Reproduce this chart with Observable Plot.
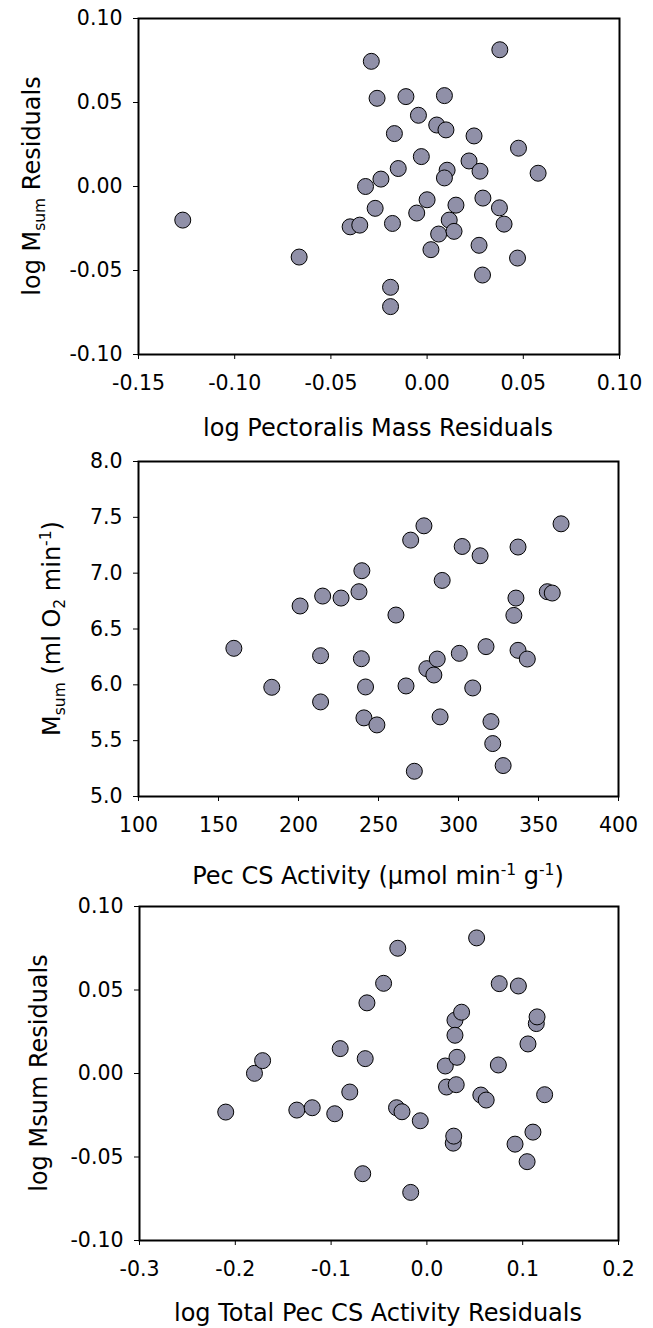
<!DOCTYPE html>
<html>
<head>
<meta charset="utf-8">
<script src="https://cdn.jsdelivr.net/npm/d3@7"></script>
<script src="https://cdn.jsdelivr.net/npm/@observablehq/plot@0.6"></script>
<style>
  html, body { margin: 0; padding: 0; background: white; }
  #chart { width: 653px; }
  #chart svg { display: block; }
  #chart svg g[aria-label^="x-axis"] text,
  #chart svg g[aria-label^="y-axis"] text { font-size: 20.5px !important; font-family: "DejaVu Sans", sans-serif !important; fill: black; }
</style>
</head>
<body>
<div id="chart"></div>
<script>
// ---------- Panel 1: log Msum residuals vs log pectoralis mass residuals ----------
const pecMassResid = [-0.127, -0.0665, -0.040, -0.035, -0.032, -0.029, -0.026, -0.027, -0.024, -0.017,
  -0.018, -0.019, -0.019, -0.015, -0.011, -0.0045, -0.003, -0.0054, 0.000, 0.002,
  0.005, 0.009, 0.0098, 0.0104, 0.009, 0.006, 0.0115, 0.014, 0.015, 0.0218,
  0.0244, 0.0275, 0.029, 0.027, 0.0288, 0.0378, 0.0376, 0.040, 0.0475, 0.047, 0.0577];
const msumResid1 = [-0.020, -0.042, -0.024, -0.023, 0.000, 0.0745, 0.0525, -0.013, 0.0044, 0.0315,
  -0.022, -0.060, -0.0715, 0.0107, 0.0535, 0.0424, 0.0178, -0.0158, -0.0079, -0.0376,
  0.0366, 0.0541, 0.0337, 0.0097, 0.0051, -0.0283, -0.020, -0.0267, -0.0111, 0.0152,
  0.0301, 0.0091, -0.0069, -0.035, -0.0527, 0.0814, -0.0127, -0.0224, 0.0228, -0.0426, 0.0079];
const p1XTicks = [-0.15, -0.10, -0.05, 0.00, 0.05, 0.10];
const p1YTicks = [-0.10, -0.05, 0.00, 0.05, 0.10];

// ---------- Panel 2: Msum vs Pec CS activity ----------
const pecCS = [159.6, 183.3, 201, 213.8, 213.8, 215.1, 226.6, 237.8, 239.6, 239.3,
  241.9, 240.9, 249, 260.9, 267.2, 270.1, 272.4, 278.4, 280.2, 284.6,
  286.7, 288.5, 289.8, 300.5, 302.3, 308.9, 313.5, 317.2, 320.3, 321.4,
  327.9, 334.6, 335.9, 337.2, 337.2, 343, 355.5, 358.6, 364.1];
const msum = [6.327, 5.978, 6.706, 6.261, 5.847, 6.795, 6.777, 6.834, 7.022, 6.234,
  5.981, 5.704, 5.641, 6.625, 5.99, 7.296, 5.226, 7.424, 6.145, 6.088,
  6.231, 5.713, 6.935, 6.282, 7.239, 5.972, 7.156, 6.342, 5.671, 5.474,
  5.277, 6.622, 6.777, 7.234, 6.309, 6.231, 6.834, 6.822, 7.442];
const p2XTicks = [100, 150, 200, 250, 300, 350, 400];
const p2YTicks = [5.0, 5.5, 6.0, 6.5, 7.0, 7.5, 8.0];

// ---------- Panel 3: log Msum residuals vs log total Pec CS activity residuals ----------
const totalCSResid = [-0.210, -0.180, -0.1715, -0.1358, -0.1197, -0.0962, -0.0905, -0.0805, -0.067, -0.0644,
  -0.0626, -0.0452, -0.0304, -0.0317, -0.026, -0.0169, -0.0069, 0.0192, 0.0205, 0.0275,
  0.028, 0.0293, 0.0293, 0.0314, 0.0306, 0.0362, 0.0519, 0.0563, 0.0619, 0.0746,
  0.0755, 0.092, 0.0955, 0.1046, 0.1055, 0.1107, 0.1142, 0.115, 0.1229];
const msumResid3 = [-0.0231, 0.0001, 0.0077, -0.0219, -0.0205, -0.0241, 0.0149, -0.0111, -0.060, 0.0089,
  0.0423, 0.054, 0.075, -0.0205, -0.0229, -0.0712, -0.0283, 0.0045, -0.0081, -0.0417,
  -0.0375, 0.0319, 0.0229, 0.0097, -0.0067, 0.0367, 0.0812, -0.0129, -0.0159, 0.0051,
  0.0538, -0.0423, 0.0524, -0.0528, 0.0177, -0.0351, 0.0299, 0.0339, -0.0127];
const p3XTicks = [-0.3, -0.2, -0.1, 0.0, 0.1, 0.2];
const p3YTicks = [-0.10, -0.05, 0.00, 0.05, 0.10];

const FONT = '"DejaVu Sans", sans-serif';
const DOT_FILL = "#9090a8";

function panel(opts) {
  const data = opts.xs.map((x, i) => ({x, y: opts.ys[i]}));
  return Plot.plot({
    width: 653,
    height: opts.height,
    marginTop: opts.mt,
    marginBottom: opts.mb,
    marginLeft: opts.ml,
    marginRight: opts.mr,
    style: {fontFamily: FONT, fontSize: "20.5px", color: "black", background: "white", overflow: "visible"},
    x: {domain: opts.xDomain, ticks: opts.xTicks, tickFormat: opts.xFmt, tickSize: 5, tickPadding: 16, label: null},
    y: {domain: opts.yDomain, ticks: opts.yTicks, tickFormat: opts.yFmt, tickSize: 5, tickPadding: 11, label: null},
    marks: [
      Plot.dot(data, {x: "x", y: "y", r: 8, fill: DOT_FILL, fillOpacity: 1, stroke: "black", strokeWidth: 1}),
      Plot.frame({stroke: "black", strokeWidth: 2})
    ]
  });
}

// parts: strings, {sub: "..."} or {sup: "..."}; the baseline is restored on the following piece
function addText(svg, x, y, parts, rotate) {
  const t = d3.select(svg).append("text")
    .attr("font-family", FONT)
    .attr("font-size", 24)
    .attr("fill", "black")
    .attr("text-anchor", "middle")
    .attr("transform", rotate ? `translate(${x},${y}) rotate(-90)` : `translate(${x},${y})`);
  let restore = 0;
  for (const p of parts) {
    const s = t.append("tspan");
    if (typeof p === "string") {
      if (restore) s.attr("dy", restore);
      restore = 0;
      s.text(p);
    } else if (p.sub) {
      s.attr("font-size", 15.5).attr("dy", 5 + restore).text(p.sub);
      restore = -5;
    } else if (p.sup) {
      s.attr("font-size", 15.5).attr("dy", -9 + restore).text(p.sup);
      restore = 9;
    }
  }
}

const chart = document.getElementById("chart");

// Panel 1
const s1 = panel({
  xs: pecMassResid, ys: msumResid1,
  height: 443, mt: 18, mb: 89, ml: 138, mr: 34,
  xDomain: [-0.15, 0.10], yDomain: [-0.10, 0.10],
  xTicks: p1XTicks, yTicks: p1YTicks,
  xFmt: d => d.toFixed(2), yFmt: d => d.toFixed(2)
});
chart.appendChild(s1);
addText(s1, 378, 436, ["log Pectoralis Mass Residuals"], false);
addText(s1, 40, 186, ["log M", {sub: "sum"}, " Residuals"], true);

// Panel 2
const s2 = panel({
  xs: pecCS, ys: msum,
  height: 447, mt: 18, mb: 94, ml: 138, mr: 35,
  xDomain: [100, 400], yDomain: [5.0, 8.0],
  xTicks: p2XTicks, yTicks: p2YTicks,
  xFmt: d => d.toFixed(0), yFmt: d => d.toFixed(1)
});
chart.appendChild(s2);
addText(s2, 378, 441, ["Pec CS Activity (\u03BCmol min", {sup: "-1"}, " g", {sup: "-1"}, ")"], false);
addText(s2, 60, 185.5, ["M", {sub: "sum"}, " (ml O", {sub: "2"}, " min", {sup: "-1"}, ")"], true);

// Panel 3
const s3 = panel({
  xs: totalCSResid, ys: msumResid3,
  height: 438, mt: 16, mb: 88, ml: 139, mr: 35,
  xDomain: [-0.3, 0.2], yDomain: [-0.10, 0.10],
  xTicks: p3XTicks, yTicks: p3YTicks,
  xFmt: d => d.toFixed(1), yFmt: d => d.toFixed(2)
});
chart.appendChild(s3);
addText(s3, 378, 431, ["log Total Pec CS Activity Residuals"], false);
addText(s3, 47, 183, ["log Msum Residuals"], true);
</script>
</body>
</html>
